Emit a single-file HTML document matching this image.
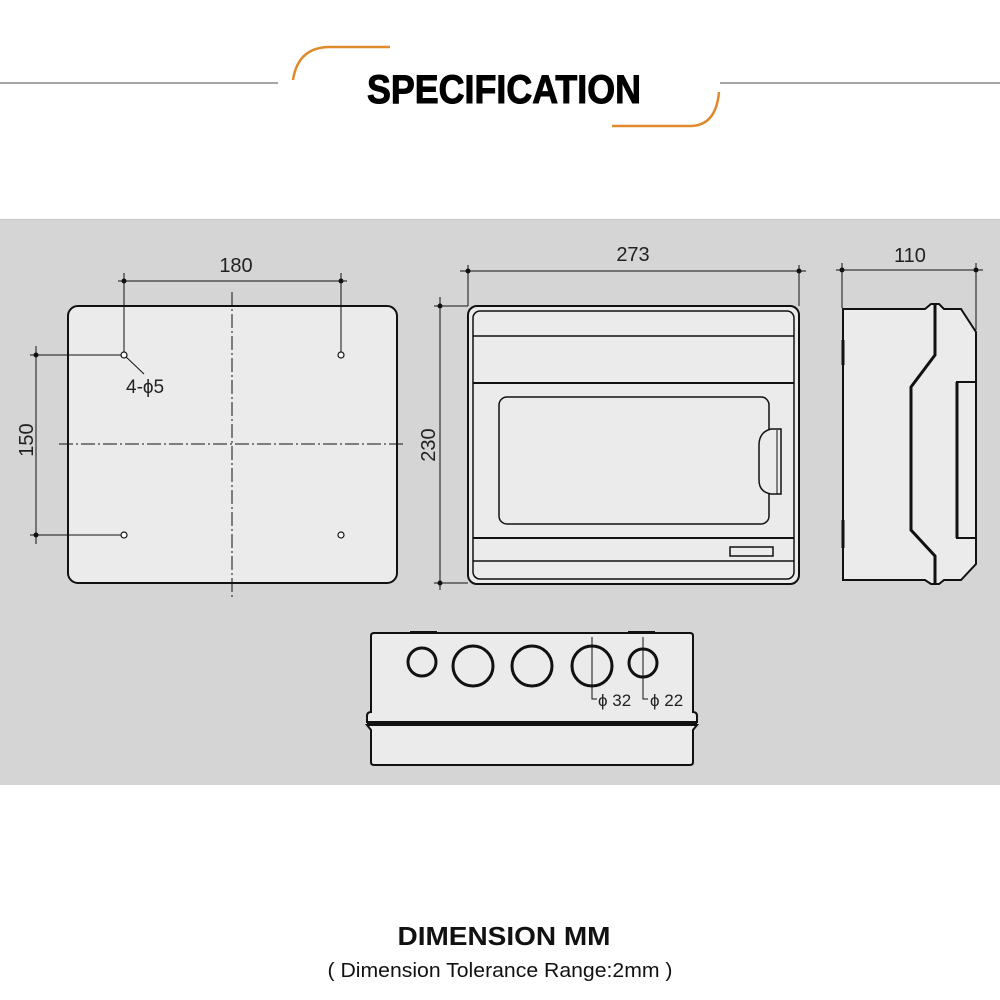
<!DOCTYPE html>
<html><head><meta charset="utf-8"><style>
html,body{margin:0;padding:0;background:#fff}
svg{display:block}
text{font-family:"Liberation Sans",sans-serif}
</style></head><body>
<svg width="1000" height="1000" viewBox="0 0 1000 1000" xmlns="http://www.w3.org/2000/svg">
<rect width="1000" height="1000" fill="#fff"/>
<!-- header -->
<line x1="0" y1="83" x2="278" y2="83" stroke="#888" stroke-width="1.5"/>
<line x1="720" y1="83" x2="1000" y2="83" stroke="#888" stroke-width="1.5"/>
<path d="M293,80 Q298,47 330,47 L390,47" fill="none" stroke="#e08a2e" stroke-width="2.5"/>
<path d="M719,92 Q716,126 690,126 L612,126" fill="none" stroke="#e08a2e" stroke-width="2.5"/>
<text x="504" y="103" text-anchor="middle" font-size="40" font-weight="bold" stroke="#000" stroke-width="1" textLength="274" lengthAdjust="spacingAndGlyphs">SPECIFICATION</text>
<!-- panel -->
<rect x="0" y="219" width="1000" height="566" fill="#d5d5d5"/>
<line x1="0" y1="219.5" x2="1000" y2="219.5" stroke="#c6c6c6"/>
<g stroke="#111" fill="none">
<!-- left back view -->
<rect x="68" y="306" width="329" height="277" rx="10" fill="#ebebeb" stroke-width="2"/>
<line x1="232" y1="292" x2="232" y2="598" stroke-width="1" stroke-dasharray="14,3,2,3"/>
<line x1="59" y1="444" x2="406" y2="444" stroke-width="1" stroke-dasharray="14,3,2,3"/>
<line x1="118" y1="281" x2="347" y2="281" stroke-width="1"/>
<line x1="124" y1="273" x2="124" y2="355" stroke-width="1"/>
<line x1="341" y1="273" x2="341" y2="355" stroke-width="1"/>
<line x1="36" y1="346" x2="36" y2="544" stroke-width="1"/>
<line x1="30" y1="355" x2="124" y2="355" stroke-width="1"/>
<line x1="30" y1="535" x2="124" y2="535" stroke-width="1"/>
<line x1="124" y1="355" x2="144" y2="374" stroke-width="1"/>
<g stroke-width="1.2" fill="#fff"><circle cx="124" cy="355" r="3"/><circle cx="341" cy="355" r="3"/><circle cx="124" cy="535" r="3"/><circle cx="341" cy="535" r="3"/></g>
<!-- front view -->
<rect x="468" y="306" width="331" height="278" rx="9" fill="#ebebeb" stroke-width="2"/>
<rect x="473" y="311" width="321" height="268" rx="7" stroke-width="1.5"/>
<line x1="473" y1="336" x2="794" y2="336" stroke-width="1.5"/>
<line x1="473" y1="383" x2="794" y2="383" stroke-width="2"/>
<rect x="499" y="397" width="270" height="127" rx="8" stroke-width="1.5"/>
<path d="M781,429 L771,429 Q759,432 759,445 L759,480 Q759,492 771,494 L781,494 Z" fill="#ebebeb" stroke-width="1.5"/>
<line x1="777" y1="430" x2="777" y2="494" stroke-width="1"/>
<line x1="473" y1="538" x2="794" y2="538" stroke-width="2"/>
<line x1="473" y1="561" x2="794" y2="561" stroke-width="1.5"/>
<rect x="730" y="547" width="43" height="9" stroke-width="1.5"/>
<line x1="460" y1="271" x2="806" y2="271" stroke-width="1"/>
<line x1="468" y1="265" x2="468" y2="306" stroke-width="1"/>
<line x1="799" y1="265" x2="799" y2="306" stroke-width="1"/>
<line x1="440" y1="297" x2="440" y2="590" stroke-width="1"/>
<line x1="434" y1="306" x2="468" y2="306" stroke-width="1"/>
<line x1="434" y1="583" x2="468" y2="583" stroke-width="1"/>
<!-- side view -->
<path d="M843,309 L925,309 L931,304 L939,304 L944,309 L961,309 L976,332 L976,564 L961,580 L944,580 L939,584 L931,584 L925,580 L843,580 Z" fill="#ebebeb" stroke-width="2"/>
<path d="M935,305 L935,355 L911,387 L911,530 L935,556 L935,583" stroke-width="3"/>
<rect x="957" y="382" width="19" height="156" stroke-width="2"/>
<line x1="957" y1="382" x2="957" y2="538" stroke-width="3"/>
<line x1="843" y1="340" x2="843" y2="365" stroke-width="3"/>
<line x1="843" y1="520" x2="843" y2="548" stroke-width="3"/>
<line x1="836" y1="270" x2="983" y2="270" stroke-width="1"/>
<line x1="842" y1="263" x2="842" y2="308" stroke-width="1"/>
<line x1="976" y1="263" x2="976" y2="330" stroke-width="1"/>
<!-- bottom view -->
<path d="M371,636 Q371,633 374,633 L690,633 Q693,633 693,636 L693,712 Q697,712 697,716 L697,722 L372,722 L367,722 L367,716 Q367,712 371,712 Z" fill="#ebebeb" stroke-width="2"/>
<path d="M367,725 L697,725 L693,730 L693,762 Q693,765 690,765 L374,765 Q371,765 371,762 L371,730 Z" fill="#ebebeb" stroke-width="2"/>
<line x1="367" y1="724" x2="697" y2="724" stroke-width="2.5"/>
<line x1="410" y1="632" x2="437" y2="632" stroke-width="2"/>
<line x1="628" y1="632" x2="655" y2="632" stroke-width="2"/>
<g stroke-width="3">
<circle cx="422" cy="662" r="14"/><circle cx="473" cy="666" r="20"/><circle cx="532" cy="666" r="20"/><circle cx="592" cy="666" r="20"/><circle cx="643" cy="663" r="14"/>
</g>
<path d="M592,637 L592,699 L597,699" stroke-width="1"/>
<path d="M643,637 L643,699 L648,699" stroke-width="1"/>
</g>
<g fill="#111">
<circle cx="124" cy="281" r="2.5"/><circle cx="341" cy="281" r="2.5"/>
<circle cx="36" cy="355" r="2.5"/><circle cx="36" cy="535" r="2.5"/>
<circle cx="468" cy="271" r="2.5"/><circle cx="799" cy="271" r="2.5"/>
<circle cx="440" cy="306" r="2.5"/><circle cx="440" cy="583" r="2.5"/>
<circle cx="842" cy="270" r="2.5"/><circle cx="976" cy="270" r="2.5"/>
</g>
<g font-size="20" fill="#222">
<text x="236" y="272" text-anchor="middle">180</text>
<text x="633" y="261" text-anchor="middle">273</text>
<text x="910" y="262" text-anchor="middle">110</text>
<text transform="translate(33,440) rotate(-90)" text-anchor="middle">150</text>
<text transform="translate(435,445) rotate(-90)" text-anchor="middle">230</text>
<text x="126" y="393" font-size="19">4-ϕ5</text>
<text x="598" y="706" font-size="17">ϕ 32</text>
<text x="650" y="706" font-size="17">ϕ 22</text>
</g>
<text x="504" y="945" text-anchor="middle" font-size="26" font-weight="bold" fill="#111" textLength="213" lengthAdjust="spacingAndGlyphs">DIMENSION MM</text>
<text x="500" y="977" text-anchor="middle" font-size="20" fill="#111" textLength="345" lengthAdjust="spacingAndGlyphs">( Dimension Tolerance Range:2mm )</text>
</svg>
</body></html>
